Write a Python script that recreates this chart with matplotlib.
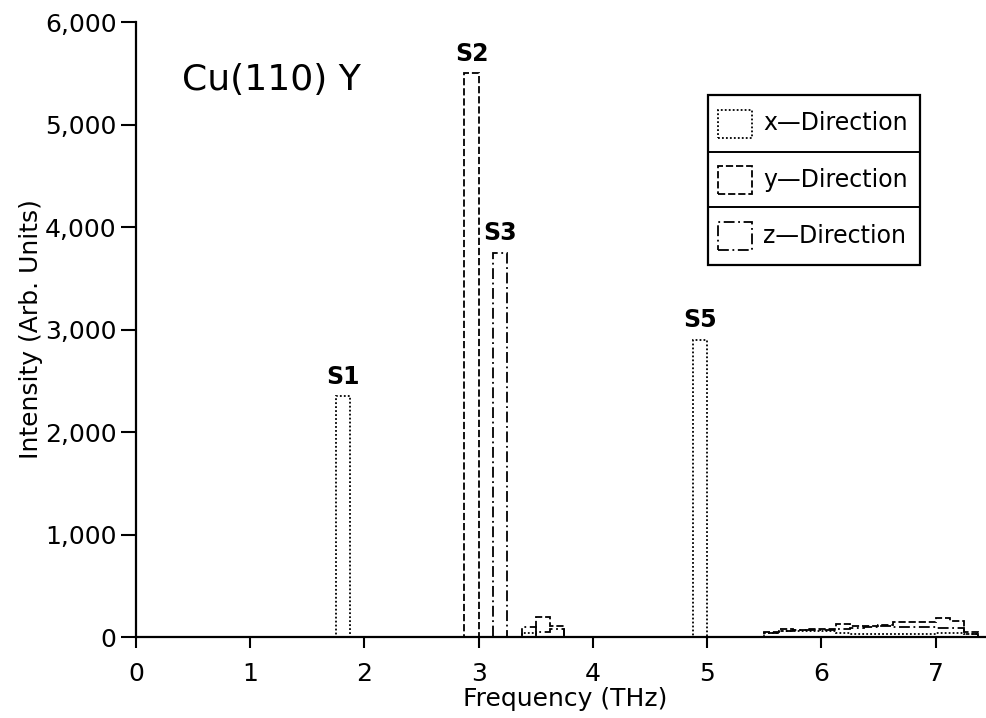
import numpy as np
import matplotlib
matplotlib.use("Agg")
import matplotlib.pyplot as plt
from matplotlib.patches import Rectangle
from matplotlib.lines import Line2D
from matplotlib.ticker import FuncFormatter

# histogram bins are 0.125 THz wide
bin_width = 0.125

x_dir_start = [1.75, 3.375, 4.875, 5.5, 5.625, 5.75, 5.875, 6.0, 6.125, 6.25, 6.375,
               6.5, 6.625, 6.75, 6.875, 7.0, 7.125, 7.25]
x_dir_vals = [2350, 40, 2900, 40, 55, 60, 55, 60, 35, 30, 30,
              30, 30, 30, 30, 35, 35, 30]

y_dir_start = [2.875, 3.5, 3.625, 5.5, 5.625, 5.75, 5.875, 6.0, 6.125, 6.25, 6.375,
               6.5, 6.625, 6.75, 6.875, 7.0, 7.125, 7.25]
y_dir_vals = [5500, 200, 110, 50, 75, 70, 80, 75, 130, 110, 110,
              115, 150, 150, 150, 190, 160, 45]

z_dir_start = [3.125, 3.375, 3.5, 3.625, 5.5, 5.625, 5.75, 5.875, 6.0, 6.125, 6.25,
               6.375, 6.5, 6.625, 6.75, 6.875, 7.0, 7.125, 7.25]
z_dir_vals = [3750, 100, 50, 80, 35, 60, 65, 65, 70, 80, 90,
              95, 105, 100, 100, 95, 90, 85, 30]

peak_names = ["S1", "S2", "S3", "S5"]
peak_freq = [1.8125, 2.9375, 3.1875, 4.9375]
peak_height = [2350, 5500, 3750, 2900]

x_ticks = [0, 1, 2, 3, 4, 5, 6, 7]
y_ticks = [0, 1000, 2000, 3000, 4000, 5000, 6000]
legend_labels = ["x\u2014Direction", "y\u2014Direction", "z\u2014Direction"]

edges = np.arange(0, 7.5 + bin_width / 2, bin_width)


def to_grid(starts, vals):
    h = np.zeros(len(edges) - 1)
    idx = np.round(np.array(starts) / bin_width).astype(int)
    h[idx] = vals
    return h


styles = [(0, (1, 1.2)), (0, (4, 1.6)), (0, (6, 2, 1, 2))]

plt.rcParams['font.family'] = ['DejaVu Sans']

fig = plt.figure(figsize=(9.87, 7.18), dpi=100)
ax = fig.add_axes([0.1378, 0.1128, 0.8622, 0.8565])

for starts, vals, ls in zip([x_dir_start, y_dir_start, z_dir_start],
                            [x_dir_vals, y_dir_vals, z_dir_vals], styles):
    ax.stairs(to_grid(starts, vals), edges, baseline=0, fill=False,
              color="black", linestyle=ls, linewidth=1.3)

for name, f, h in zip(peak_names, peak_freq, peak_height):
    ax.text(f, h + 120, name, ha="center", va="baseline", fontsize=17,
            fontweight="bold")

ax.text(0.40, 5340, "Cu(110) Y", fontsize=26, va="baseline", ha="left")

ax.set_xlim(0, 7.45)
ax.set_ylim(0, 6000)
ax.set_xticks(x_ticks)
ax.set_yticks(y_ticks)
ax.yaxis.set_major_formatter(FuncFormatter(lambda v, p: f"{int(v):,}"))
ax.tick_params(axis="x", direction="out", length=8, width=1.5, pad=10,
               labelsize=18)
ax.tick_params(axis="y", direction="out", length=11, width=1.5, pad=3,
               labelsize=18)
for s in ["top", "right"]:
    ax.spines[s].set_visible(False)
for s in ["left", "bottom"]:
    ax.spines[s].set_linewidth(1.6)

ax.set_xlabel("Frequency (THz)", fontsize=18)
ax.xaxis.set_label_coords(0.504, -0.081)
ax.set_ylabel("Intensity (Arb. Units)", fontsize=18)
ax.yaxis.set_label_coords(-0.109, 0.5)

# legend box with a divider between rows
bx0, bx1 = 708 / 987, 920 / 987
row_edges = [1 - 95 / 718, 1 - 152 / 718, 1 - 207 / 718, 1 - 265 / 718]
fig.add_artist(Rectangle((bx0, row_edges[-1]), bx1 - bx0,
                         row_edges[0] - row_edges[-1], fill=False,
                         linewidth=1.6, edgecolor="black",
                         transform=fig.transFigure))
for yd in row_edges[1:-1]:
    fig.add_artist(Line2D([bx0, bx1], [yd, yd], color="black", linewidth=1.4,
                          transform=fig.transFigure))
hw, hh = 34 / 987, 28 / 718
for i, (lab, ls) in enumerate(zip(legend_labels, styles)):
    yc = (row_edges[i] + row_edges[i + 1]) / 2
    fig.add_artist(Rectangle((718 / 987, yc - hh / 2), hw, hh, fill=False,
                             linestyle=ls, linewidth=1.3, edgecolor="black",
                             transform=fig.transFigure))
    fig.text(763 / 987, yc, lab, fontsize=17, va="center", ha="left")

fig.savefig("out.png", dpi=100)
